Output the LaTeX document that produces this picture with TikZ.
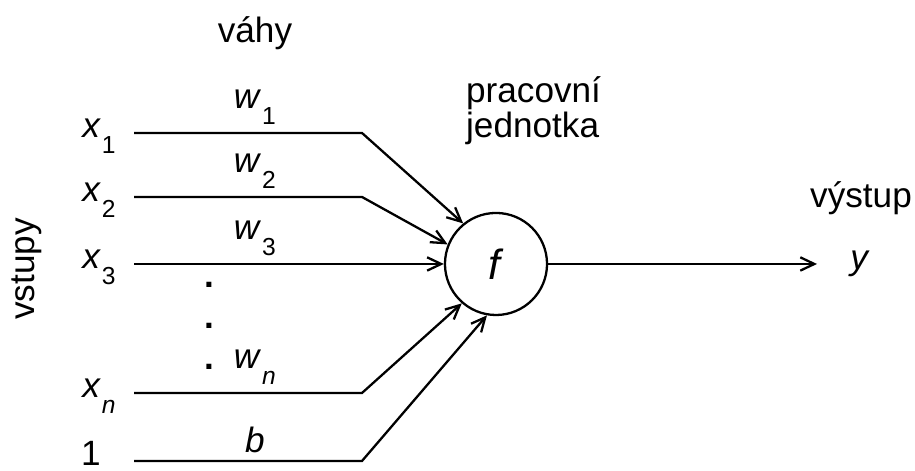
\documentclass[tikz,border=0pt]{standalone}
\usepackage{fontspec}
\setmainfont{Liberation Sans}
\usetikzlibrary{arrows.meta,positioning}

\newcommand{\vsub}[2]{#1\kern0.3pt\raisebox{-4.6pt}{\fontsize{7}{7}\selectfont #2}}

\begin{document}
\begin{tikzpicture}[
  x=0.01cm, y=0.01cm,
  font=\fontsize{10}{10}\selectfont,
  line width=0.65pt,
  arr/.style={-{Straight Barb[length=4pt,width=3.8pt]}},
  inlbl/.style={inner sep=0pt},
  wlbl/.style={above=0.07cm, inner sep=0pt},
  unit/.style={draw, circle, minimum size=1.02cm, inner sep=0pt,
               font=\fontsize{12}{12}\selectfont},
  caption/.style={inner sep=0pt, anchor=base},
]
\useasboundingbox (0,0) rectangle (915,471);

\def\xs{134} % start of input lines
\def\xk{362} % bend towards the unit

%% --- Processing unit ---
\node[unit] (f) at (496,207) {\textit{f}};

%% --- Inputs and weights ---
\foreach \n/\y/\lx/\ly/\lbl/\wt/\ang in {
    1/338/99/335/{\vsub{\textit{x}}{1}}/{\vsub{\textit{w}}{1}}/129,
    2/274/99/271/{\vsub{\textit{x}}{2}}/{\vsub{\textit{w}}{2}}/158,
    3/207/99/204/{\vsub{\textit{x}}{3}}/{\vsub{\textit{w}}{3}}/180,
    n/78/99/75/{\vsub{\textit{x}}{\textit{n}}}/{\vsub{\textit{w}}{\textit{n}}}/-131,
    b/10/91/18/{1}/{\textit{b}}/-100}{
  \node[inlbl] (x\n) at (\lx,\ly) {\lbl};
  \coordinate (s\n) at (\xs,\y);
  \coordinate (k\n) at (\xk,\y);
  \draw[arr] (s\n) -- node[wlbl, pos=0.53] {\wt} (k\n) -- (f.\ang);
}

% vertical dots between x3 and xn
\foreach \d/\y in {1/183, 2/142, 3/101}{
  \node[caption] (dot\d) at (209,\y) {\textbf{.}};
}

%% --- Output ---
\coordinate (out) at (817,207);
\draw[arr] (f.east) -- (out);
\node[caption] (ylbl) at (860,201) {\textit{y}};

%% --- Captions ---
\node[caption] (vahy) at (255,428) {váhy};
\node[caption, anchor=base west, align=left] (unitlbl) at (465,333) {pracovní\\jednotka};
\node[caption] (vystup) at (861,263) {výstup};
\node[caption, rotate=90] (vstupy) at (35,202) {vstupy};

\end{tikzpicture}
\end{document}
